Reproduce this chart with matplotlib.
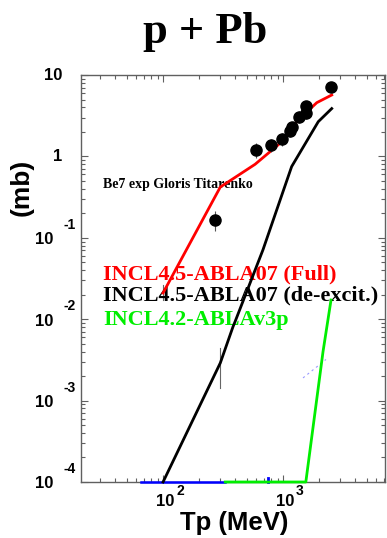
import matplotlib
matplotlib.use("Agg")
import matplotlib.pyplot as plt
from matplotlib.transforms import offset_copy, blended_transform_factory

# ---------------- data ----------------
exp_E = [271, 596, 790, 976, 1144, 1190, 1368, 1546, 1560, 2527]
exp_xs = [0.166, 1.2, 1.37, 1.64, 2.07, 2.3, 3.08, 4.16, 3.39, 7.2]
exp_err = [0.045, 0.25, 0.25, 0.3, 0.35, 0.35, 0.5, 0.6, 0.5, 0.9]

full_E = [100, 300, 585, 976, 1300, 1910, 2547]
full_xs = [0.021, 0.42, 0.80, 1.51, 2.67, 4.57, 5.68]

deex_E = [100, 300, 383, 398, 680, 1180, 1967, 2547]
deex_xs = [1.0e-4, 0.0029, 0.0081, 0.0093, 0.071, 0.75, 2.67, 3.87]

v42_E = [330, 1549, 2155, 2512]
v42_xs = [1.0e-4, 1.0e-4, 0.0040, 0.0172]

blue_E = [66, 330]
blue_xs = [1.0e-4, 1.0e-4]
blue_faint_E = [1468, 2280]
blue_faint_xs = [0.0019, 0.0032]

yticks = [1e-4, 1e-3, 1e-2, 1e-1, 1, 10]
ytick_base = ["10", "10", "10", "10", "1", "10"]
ytick_exp = ["-4", "-3", "-2", "-1", "", ""]
xticks = [100, 1000]
xtick_base = ["10", "10"]
xtick_exp = ["2", "3"]

title = "p + Pb"
xlabel = "Tp (MeV)"
ylabel = "(mb)"
data_label = "Be7 exp Gloris Titarenko"
legend_entries = ["INCL4.5-ABLA07 (Full)", "INCL4.5-ABLA07 (de-excit.)", "INCL4.2-ABLAv3p"]
legend_colors = ["#ff0000", "#000000", "#00ee00"]

# ---------------- figure ----------------
W, H = 387, 538
fig = plt.figure(figsize=(W / 100, H / 100), dpi=100)
L, R, T, B = 81, 385, 75, 482
ax = fig.add_axes([L / W, 1 - B / H, (R - L) / W, (B - T) / H])
ax.set_xscale("log")
ax.set_yscale("log")
ax.set_xlim(20.7, 7080)
ax.set_ylim(1e-4, 10)

frame_col = "#606060"
for s in ax.spines.values():
    s.set_color(frame_col)
    s.set_linewidth(1.0)
ax.tick_params(which="both", direction="in", top=True, right=True,
               labelbottom=False, labelleft=False, color=frame_col, width=0.8)
ax.tick_params(which="major", length=5)
ax.tick_params(which="minor", length=3)
ax.xaxis.set_major_locator(matplotlib.ticker.LogLocator(base=10, numticks=10))
ax.xaxis.set_minor_locator(matplotlib.ticker.LogLocator(base=10, subs=range(2, 10), numticks=20))
ax.yaxis.set_major_locator(matplotlib.ticker.LogLocator(base=10, numticks=10))
ax.yaxis.set_minor_locator(matplotlib.ticker.LogLocator(base=10, subs=range(2, 10), numticks=20))

# model curves
ax.plot(blue_E, blue_xs, color="#0000ff", lw=1.8, clip_on=False, zorder=3)
ax.plot(blue_faint_E, blue_faint_xs, color="#3333ff", lw=0.8, ls=(0, (2, 3)), alpha=0.5, zorder=3)
ax.plot([750, 750], [1.0e-4, 1.12e-4], color="#0000ff", lw=2, clip_on=False, zorder=3)
ax.plot(v42_E, v42_xs, color="#00ee00", lw=2, clip_on=False, zorder=4)
ax.plot(deex_E, deex_xs, color="black", lw=2, clip_on=False, zorder=4)
ax.plot([300, 300], [0.00143, 0.0044], color="#666666", lw=0.8, zorder=3)
ax.plot(full_E, full_xs, color="#ff0000", lw=2, clip_on=False, zorder=5)
ax.plot([100, 100], [0.017, 0.026], color="#666666", lw=0.8, zorder=3)

# experimental data
ax.errorbar(exp_E, exp_xs, yerr=exp_err, fmt="o", color="black", ms=8,
            ecolor="#555555", elinewidth=0.8, capsize=0, zorder=6)

# texts inside
serif = ["Liberation Serif", "DejaVu Serif"]
sans = ["Liberation Sans", "DejaVu Sans"]
ax.text((103 - L) / (R - L), (B - 188) / (B - T), data_label, transform=ax.transAxes,
        fontsize=10, fontweight="bold", family=serif, va="baseline", ha="left")
baselines = [279, 300, 325]
for txt, col, bl in zip(legend_entries, legend_colors, baselines):
    ax.text((103 - L) / (R - L), (B - bl) / (B - T), txt, transform=ax.transAxes,
            fontsize=16, fontweight="bold", family=serif, color=col, va="baseline", ha="left")

# tick labels (ROOT style)
ytr = blended_transform_factory(ax.transAxes, ax.transData)
for v, b, e in zip(yticks, ytick_base, ytick_exp):
    if e:
        t = offset_copy(ytr, fig=fig, x=-28, y=-2, units="dots")
        ax.text(0, v, b, transform=t, ha="right", va="center", fontsize=12,
                fontweight="bold", family=sans, clip_on=False)
        t2 = offset_copy(ytr, fig=fig, x=-18, y=13, units="dots")
        ax.text(0, v, e, transform=t2, ha="left", va="center", fontsize=10,
                fontweight="bold", family=sans, clip_on=False)
    else:
        t = offset_copy(ytr, fig=fig, x=-19, y=0, units="dots")
        ax.text(0, v, b, transform=t, ha="right", va="center", fontsize=12,
                fontweight="bold", family=sans, clip_on=False)

xtr = blended_transform_factory(ax.transData, ax.transAxes)
for v, b, e in zip(xticks, xtick_base, xtick_exp):
    t = offset_copy(xtr, fig=fig, x=2, y=-20, units="dots")
    ax.text(v, 0, b, transform=t, ha="center", va="center", fontsize=12,
            fontweight="bold", family=sans, clip_on=False)
    t2 = offset_copy(xtr, fig=fig, x=13, y=-9, units="dots")
    ax.text(v, 0, e, transform=t2, ha="left", va="center", fontsize=10,
            fontweight="bold", family=sans, clip_on=False)

# axis titles and title
fig.text(234 / W, 1 - 530 / H, xlabel, ha="center", va="baseline", fontsize=18.5,
         fontweight="bold", family=sans)
fig.text(22 / W, 1 - 187 / H, ylabel, ha="center", va="center", rotation=90,
         fontsize=19, fontweight="bold", family=sans)
fig.text(205 / W, 1 - 43 / H, title, ha="center", va="baseline", fontsize=32,
         fontweight="bold", family=serif)

fig.savefig("out.png", dpi=100)
